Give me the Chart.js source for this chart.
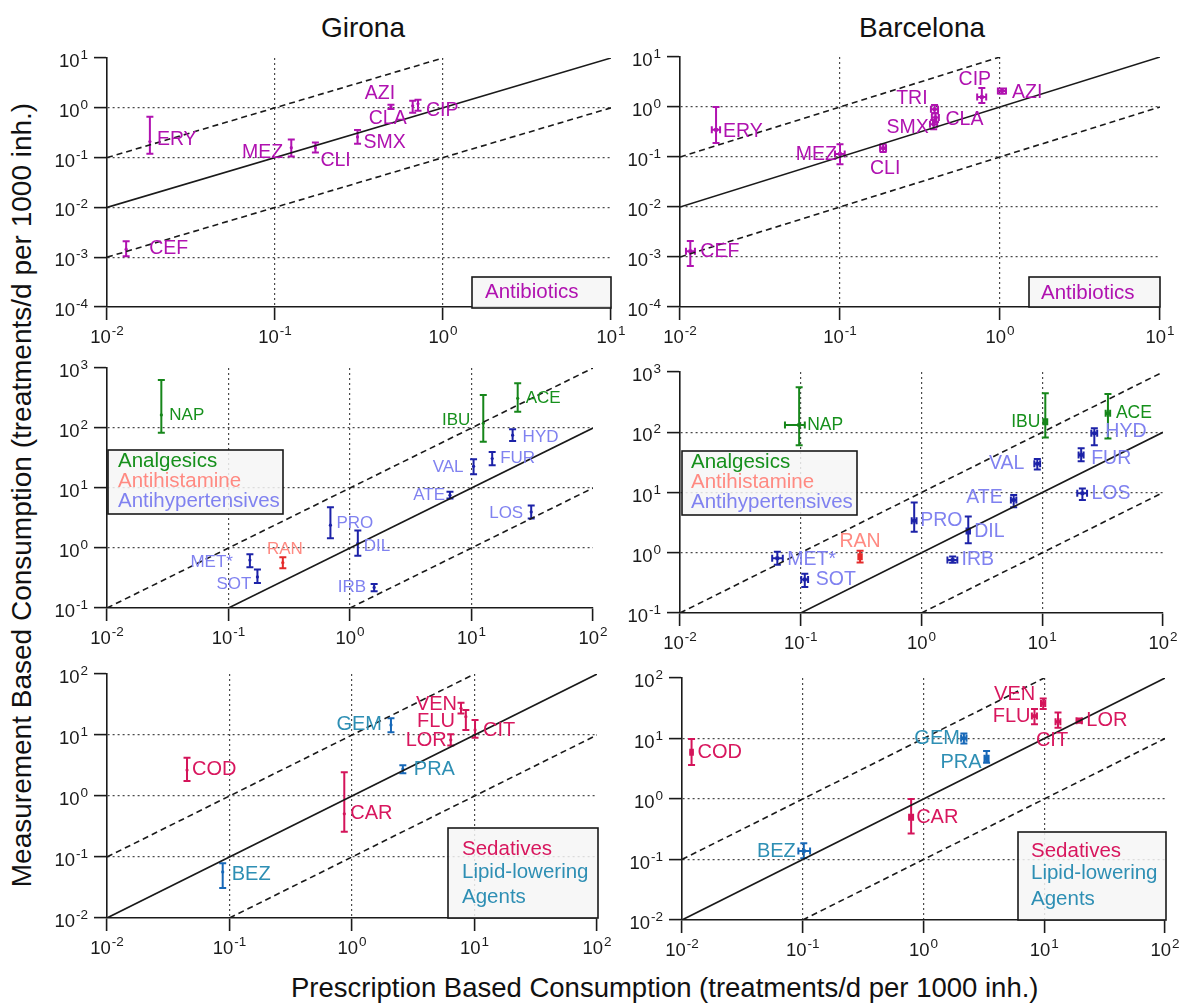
<!DOCTYPE html>
<html>
<head>
<meta charset="utf-8">
<script src="https://cdn.jsdelivr.net/npm/chart.js@4.4.1/dist/chart.umd.min.js"></script>
<style>
html, body { margin: 0; padding: 0; background: #fff; overflow: hidden; }
body { width: 1182px; height: 1004px; position: relative; font-family: "Liberation Sans", Arial, sans-serif; color: #111; }
canvas { position: absolute; }
.title { position: absolute; font-size: 28px; line-height: 28px; white-space: nowrap; transform: translateX(-50%); }
#ytitle { position: absolute; left: 22px; top: 495px; font-size: 28px; line-height: 28px; white-space: nowrap;
  transform: translate(-50%, -50%) rotate(-90deg); }
#xtitle { position: absolute; left: 291px; top: 974px; font-size: 27.5px; line-height: 28px; white-space: nowrap; }
</style>
</head>
<body>
<div class="title" style="left:363px;top:14px">Girona</div>
<div class="title" style="left:922px;top:14px">Barcelona</div>
<div id="ytitle">Measurement Based Consumption (treatments/d per 1000 inh.)</div>
<div id="xtitle">Prescription Based Consumption (treatments/d per 1000 inh.)</div>
<script>
// tick exponents (labels are 10^e)
const topXExp = [-2, -1, 0, 1];
const topYExp = [-4, -3, -2, -1, 0, 1];
const midXExp = [-2, -1, 0, 1, 2];
const midYExp = [-1, 0, 1, 2, 3];
const botXExp = [-2, -1, 0, 1, 2];
const botYExp = [-2, -1, 0, 1, 2];

// reference lines y = x, y = 10x, y = x/10
const topIdX = [1e-2, 1e1], topIdY = [1e-2, 1e1];
const topUpX = [1e-2, 1e0], topUpY = [1e-1, 1e1];
const topLoX = [1e-2, 1e1], topLoY = [1e-3, 1e0];
const midIdX = [1e-1, 1e2], midIdY = [1e-1, 1e2];
const midUpX = [1e-2, 1e2], midUpY = [1e-1, 1e3];
const midLoX = [1e0, 1e2],  midLoY = [1e-1, 1e1];
const botIdX = [1e-2, 1e2], botIdY = [1e-2, 1e2];
const botUpX = [1e-2, 1e1], botUpY = [1e-1, 1e2];
const botLoX = [1e-1, 1e2], botLoY = [1e-2, 1e1];

// Girona - antibiotics
const gAbNames = ["ERY", "CEF", "MEZ", "CLI", "SMX", "AZI", "CLA", "CIP"];
const gAbGroup = ["ab", "ab", "ab", "ab", "ab", "ab", "ab", "ab"];
const gAbX   = [0.018, 0.013, 0.125, 0.174, 0.31, 0.49, 0.66, 0.71];
const gAbY   = [0.21, 0.00145, 0.158, 0.158, 0.26, 1.05, 1.1, 1.2];
const gAbYLo = [0.12, 0.00105, 0.105, 0.126, 0.19, 0.95, 0.8, 0.87];
const gAbYHi = [0.66, 0.0021, 0.23, 0.2, 0.36, 1.15, 1.38, 1.45];

// Barcelona - antibiotics
const bAbNames = ["ERY", "CEF", "MEZ", "CLI", "TRI", "SMX", "CLA", "CIP", "AZI"];
const bAbGroup = ["ab", "ab", "ab", "ab", "ab", "ab", "ab", "ab", "ab"];
const bAbX   = [0.0168, 0.0116, 0.1, 0.186, 0.39, 0.385, 0.395, 0.77, 1.03];
const bAbY   = [0.35, 0.0013, 0.115, 0.15, 0.9, 0.45, 0.62, 1.58, 2.1];
const bAbYLo = [0.19, 0.00066, 0.072, 0.126, 0.75, 0.36, 0.5, 1.2, 1.85];
const bAbYHi = [1.0, 0.0021, 0.18, 0.18, 1.1, 0.55, 0.75, 2.4, 2.35];
const bAbXLo = [0.0158, 0.0109, 0.093, 0.178, 0.37, 0.365, 0.375, 0.72, 0.97];
const bAbXHi = [0.0178, 0.0124, 0.107, 0.194, 0.41, 0.405, 0.415, 0.82, 1.09];

// Girona - analgesics / antihistamine / antihypertensives
const gMidNames = ["NAP", "IBU", "ACE", "RAN", "HYD", "FUR", "VAL", "ATE", "LOS", "PRO", "DIL", "MET*", "SOT", "IRB"];
const gMidGroup = ["an", "an", "an", "ah", "hy", "hy", "hy", "hy", "hy", "hy", "hy", "hy", "hy", "hy"];
const gMidX   = [0.028, 12.5, 24, 0.28, 21.8, 14.8, 10.4, 6.65, 31, 0.69, 1.16, 0.15, 0.173, 1.58];
const gMidY   = [165, 120, 312, 0.57, 76, 31, 23, 7.6, 4.0, 2.4, 1.2, 0.63, 0.33, 0.22];
const gMidYLo = [83, 59, 187, 0.46, 61, 24, 17, 6.7, 3.1, 1.45, 0.74, 0.48, 0.26, 0.19];
const gMidYHi = [630, 355, 555, 0.7, 95, 40, 30, 8.7, 5.1, 4.8, 1.95, 0.79, 0.44, 0.25];

// Barcelona - analgesics / antihistamine / antihypertensives
const bMidNames = ["NAP", "IBU", "ACE", "RAN", "HYD", "FUR", "VAL", "ATE", "LOS", "PRO", "DIL", "MET*", "SOT", "IRB"];
const bMidGroup = ["an", "an", "an", "ah", "hy", "hy", "hy", "hy", "hy", "hy", "hy", "hy", "hy", "hy"];
const bMidX   = [0.097, 10.6, 35, 0.31, 27, 21, 9.1, 5.8, 21.5, 0.87, 2.44, 0.064, 0.108, 1.81];
const bMidY   = [132, 150, 206, 0.86, 96, 42, 30, 7.5, 9.7, 3.4, 2.3, 0.81, 0.36, 0.76];
const bMidYLo = [61, 82, 79, 0.69, 61, 33, 24, 5.7, 7.5, 2.24, 1.44, 0.63, 0.27, 0.68];
const bMidYHi = [557, 443, 431, 1.08, 116, 54, 36, 9.1, 11.7, 6.8, 4.0, 1.04, 0.45, 0.87];
const bMidXLo = [0.074, 10.2, 33.5, 0.30, 25.5, 20, 8.6, 5.5, 19.5, 0.83, 2.36, 0.058, 0.101, 1.64];
const bMidXHi = [0.108, 11.0, 36.5, 0.32, 28.5, 22, 9.6, 6.1, 23.5, 0.91, 2.52, 0.071, 0.115, 1.98];

// Girona - sedatives / lipid-lowering agents
const gBotNames = ["COD", "CAR", "VEN", "FLU", "CIT", "LOR", "BEZ", "GEM", "PRA"];
const gBotGroup = ["se", "se", "se", "se", "se", "se", "li", "li", "li"];
const gBotX   = [0.045, 0.865, 7.76, 8.5, 10.1, 6.4, 0.088, 2.08, 2.6];
const gBotY   = [2.67, 0.51, 27.4, 20, 12.1, 8.3, 0.057, 14.6, 2.77];
const gBotYLo = [1.76, 0.26, 22.6, 12.1, 9.0, 6.7, 0.031, 11.1, 2.36];
const gBotYHi = [4.25, 2.44, 33.9, 25.7, 17.6, 10.3, 0.079, 18.8, 3.2];

// Barcelona - sedatives / lipid-lowering agents
const bBotNames = ["COD", "CAR", "VEN", "FLU", "CIT", "LOR", "BEZ", "GEM", "PRA"];
const bBotGroup = ["se", "se", "se", "se", "se", "se", "li", "li", "li"];
const bBotX   = [0.012, 0.79, 9.8, 8.3, 13, 19.5, 0.102, 2.16, 3.33];
const bBotY   = [5.9, 0.5, 38, 23.5, 19, 19.7, 0.138, 10.1, 4.7];
const bBotYLo = [3.65, 0.27, 30.8, 17.2, 15.1, 18.2, 0.105, 8.3, 3.96];
const bBotYHi = [9.8, 1.0, 46, 30.8, 27, 21.4, 0.185, 12.1, 6.2];
const bBotXLo = [0.0117, 0.76, 9.4, 7.9, 12.4, 18.5, 0.092, 2.05, 3.2];
const bBotXHi = [0.0123, 0.82, 10.2, 8.7, 13.6, 20.5, 0.115, 2.27, 3.46];

// label placement (pixel offsets from the point, alignment)
const gAbLab  = [[7,-2,"l"],[23,-1,"l"],[-8,5,"r"],[5,13,"l"],[6,6,"l"],[-11,-13,"c"],[-6,13,"r"],[8,7,"l"]];
const bAbLab  = [[7,2,"l"],[10,0,"l"],[-3,1,"r"],[2,20,"c"],[-7,-11,"r"],[-5,3,"r"],[10,2,"l"],[-7,-17,"c"],[10,2,"l"]];
const gMidLab = [[8,0,"l"],[-13,-3,"r"],[8,0,"l"],[2,-13,"c"],[10,2,"l"],[8,0,"l"],[-10,1,"r"],[-5,0,"r"],[-8,1,"r"],[6,-2,"l"],[6,3,"l"],[-17,2,"r"],[-6,7,"r"],[-8,0,"r"]];
const bMidLab = [[8,0,"l"],[-5,1,"r"],[8,0,"l"],[0,-15,"c"],[11,-2,"l"],[10,4,"l"],[-13,0,"r"],[-11,-2,"r"],[9,0,"l"],[6,0,"l"],[6,1,"l"],[10,1,"l"],[11,0,"l"],[9,0,"l"]];
const gBotLab = [[5,0,"l"],[6,0,"l"],[-4,-4,"r"],[-11,5,"r"],[8,1,"l"],[-4,1,"r"],[9,3,"l"],[-9,0,"r"],[11,0,"l"]];
const bBotLab = [[6,0,"l"],[5,0,"l"],[-8,-9,"r"],[-4,0,"r"],[-6,19,"c"],[7,0,"l"],[-8,0,"r"],[-4,0,"r"],[-5,4,"r"]];

const FONT = '"Liberation Sans", Arial, Helvetica, sans-serif';
const barColor  = { ab: "#b012b0", an: "#16861a", ah: "#e42a2a", hy: "#1c22a8", se: "#d4145a", li: "#1768b8" };
const textColor = { ab: "#b012b0", an: "#16901c", ah: "#ff8a82", hy: "#8082f0", se: "#d8175e", li: "#2e8fb4" };

const panels = [
  { L: 107, T: 58, R: 611, B: 307, xExp: topXExp, yExp: topYExp,
    refs: [[topIdX, topIdY, false], [topUpX, topUpY, true], [topLoX, topLoY, true]],
    names: gAbNames, group: gAbGroup, x: gAbX, y: gAbY, yLo: gAbYLo, yHi: gAbYHi, lab: gAbLab,
    sizes: { ab: 19.5 },
    legend: { box: [365, 219, 139, 31], tx: 13, base: [21], lines: [["Antibiotics", "ab"]] } },
  { L: 680, T: 57, R: 1160, B: 307, xExp: topXExp, yExp: topYExp,
    refs: [[topIdX, topIdY, false], [topUpX, topUpY, true], [topLoX, topLoY, true]],
    names: bAbNames, group: bAbGroup, x: bAbX, y: bAbY, yLo: bAbYLo, yHi: bAbYHi, xLo: bAbXLo, xHi: bAbXHi, lab: bAbLab,
    sizes: { ab: 19.5 },
    legend: { box: [349, 220, 131, 30], tx: 12, base: [22], lines: [["Antibiotics", "ab"]] } },
  { L: 107, T: 368, R: 593, B: 608, xExp: midXExp, yExp: midYExp,
    refs: [[midIdX, midIdY, false], [midUpX, midUpY, true], [midLoX, midLoY, true]],
    names: gMidNames, group: gMidGroup, x: gMidX, y: gMidY, yLo: gMidYLo, yHi: gMidYHi, lab: gMidLab,
    sizes: { an: 17, ah: 17, hy: 17 },
    legend: { box: [1, 82, 175, 64], tx: 10, base: [17, 37, 57], lines: [["Analgesics", "an"], ["Antihistamine", "ah"], ["Antihypertensives", "hy"]] } },
  { L: 680, T: 372, R: 1163, B: 613, xExp: midXExp, yExp: midYExp,
    refs: [[midIdX, midIdY, false], [midUpX, midUpY, true], [midLoX, midLoY, true]],
    names: bMidNames, group: bMidGroup, x: bMidX, y: bMidY, yLo: bMidYLo, yHi: bMidYHi, xLo: bMidXLo, xHi: bMidXHi, lab: bMidLab,
    sizes: { an: 17.5, ah: 19.5, hy: 19.5 },
    legend: { box: [2, 79, 175, 64], tx: 9, base: [17, 37, 57], lines: [["Analgesics", "an"], ["Antihistamine", "ah"], ["Antihypertensives", "hy"]] } },
  { L: 107, T: 674, R: 597, B: 918, xExp: botXExp, yExp: botYExp,
    refs: [[botIdX, botIdY, false], [botUpX, botUpY, true], [botLoX, botLoY, true]],
    names: gBotNames, group: gBotGroup, x: gBotX, y: gBotY, yLo: gBotYLo, yHi: gBotYHi, lab: gBotLab,
    sizes: { se: 20, li: 20 },
    legend: { box: [341, 154, 150, 90], tx: 14, base: [27, 50, 75], lines: [["Sedatives", "se"], ["Lipid-lowering", "li"], ["Agents", "li"]] } },
  { L: 682, T: 678, R: 1165, B: 920, xExp: botXExp, yExp: botYExp,
    refs: [[botIdX, botIdY, false], [botUpX, botUpY, true], [botLoX, botLoY, true]],
    names: bBotNames, group: bBotGroup, x: bBotX, y: bBotY, yLo: bBotYLo, yHi: bBotYHi, xLo: bBotXLo, xHi: bBotXHi, lab: bBotLab,
    sizes: { se: 20, li: 20 },
    legend: { box: [336, 154, 148, 88], tx: 13, base: [25, 47, 73], lines: [["Sedatives", "se"], ["Lipid-lowering", "li"], ["Agents", "li"]] } }
];

function powLabel(ctx, x, y, e, align) {
  ctx.font = "18.5px " + FONT;
  const w1 = ctx.measureText("10").width;
  ctx.font = "13.5px " + FONT;
  const sup = String(e);
  const w2 = ctx.measureText(sup).width;
  const total = w1 + 1 + w2;
  const x0 = align === "right" ? x - total : x - total / 2;
  ctx.fillStyle = "#1a1a1a";
  ctx.textAlign = "left";
  ctx.textBaseline = "alphabetic";
  ctx.font = "18.5px " + FONT;
  ctx.fillText("10", x0, y);
  ctx.font = "13.5px " + FONT;
  ctx.fillText(sup, x0 + w1 + 1, y - 8);
}

function panelPlugin(p) {
  return {
    id: "panelExtras",
    beforeDatasetsDraw(chart) {
      const ctx = chart.ctx, xs = chart.scales.x, ys = chart.scales.y;
      ctx.save();
      ctx.lineWidth = 2;
      p.names.forEach((n, i) => {
        const col = barColor[p.group[i]];
        const px = xs.getPixelForValue(p.x[i]);
        const py = ys.getPixelForValue(p.y[i]);
        const lo = ys.getPixelForValue(p.yLo[i]);
        const hi = ys.getPixelForValue(p.yHi[i]);
        const cap = 3.5;
        ctx.strokeStyle = col;
        ctx.beginPath();
        ctx.moveTo(px, lo); ctx.lineTo(px, hi);
        ctx.moveTo(px - cap, lo); ctx.lineTo(px + cap, lo);
        ctx.moveTo(px - cap, hi); ctx.lineTo(px + cap, hi);
        if (p.xLo) {
          const l = xs.getPixelForValue(p.xLo[i]);
          const r = xs.getPixelForValue(p.xHi[i]);
          ctx.moveTo(l, py); ctx.lineTo(r, py);
          ctx.moveTo(l, py - cap); ctx.lineTo(l, py + cap);
          ctx.moveTo(r, py - cap); ctx.lineTo(r, py + cap);
        }
        ctx.stroke();
      });
      ctx.restore();
    },
    afterDatasetsDraw(chart) {
      const ctx = chart.ctx, xs = chart.scales.x, ys = chart.scales.y, a = chart.chartArea;
      ctx.save();
      ctx.textBaseline = "middle";
      p.names.forEach((n, i) => {
        const g = p.group[i];
        const px = xs.getPixelForValue(p.x[i]);
        const py = ys.getPixelForValue(p.y[i]);
        const [dx, dy, al] = p.lab[i];
        ctx.font = p.sizes[g] + "px " + FONT;
        ctx.fillStyle = textColor[g];
        ctx.textAlign = al === "l" ? "left" : al === "r" ? "right" : "center";
        ctx.fillText(n, px + dx, py + dy);
      });
      // legend box
      const lg = p.legend;
      const bx = a.left + lg.box[0], by = a.top + lg.box[1];
      ctx.fillStyle = "rgba(246,246,246,0.85)";
      ctx.fillRect(bx, by, lg.box[2], lg.box[3]);
      ctx.strokeStyle = "#1a1a1a";
      ctx.lineWidth = 1.6;
      ctx.strokeRect(bx, by, lg.box[2], lg.box[3]);
      ctx.font = "20.5px " + FONT;
      ctx.textAlign = "left";
      ctx.textBaseline = "alphabetic";
      lg.lines.forEach((ln, k) => {
        ctx.fillStyle = textColor[ln[1]];
        ctx.fillText(ln[0], bx + lg.tx, by + lg.base[k]);
      });
      ctx.restore();
    },
    afterDraw(chart) {
      const ctx = chart.ctx, xs = chart.scales.x, ys = chart.scales.y, a = chart.chartArea;
      ctx.save();
      p.xExp.forEach(e => powLabel(ctx, xs.getPixelForValue(Math.pow(10, e)), a.bottom + 36, e, "center"));
      p.yExp.forEach(e => powLabel(ctx, a.left - 19, ys.getPixelForValue(Math.pow(10, e)) + 9, e, "right"));
      ctx.restore();
    }
  };
}

function axisOpts(exps, isX) {
  const min = Math.pow(10, exps[0]), max = Math.pow(10, exps[exps.length - 1]);
  return {
    type: "logarithmic",
    position: isX ? "bottom" : "left",
    min: min, max: max,
    afterBuildTicks: s => { s.ticks = exps.map(e => ({ value: Math.pow(10, e) })); },
    afterFit: s => { if (isX) s.height = 45; else s.width = 65; },
    ticks: { display: false },
    grid: {
      color: c => {
        const v = c.tick ? c.tick.value : 0;
        return (v <= min * 1.001 || v >= max * 0.999) ? "rgba(0,0,0,0)" : "#4a4a4a";
      },
      lineWidth: 1.2,
      drawTicks: true,
      tickLength: 13,
      tickColor: "#1a1a1a",
      tickWidth: 1.6
    },
    border: { display: true, color: "#1a1a1a", width: 1.6, dash: [2, 3] }
  };
}

function buildPanel(p) {
  const cv = document.createElement("canvas");
  const W = p.R - p.L, H = p.B - p.T;
  cv.width = W + 85;
  cv.height = H + 60;
  cv.style.left = (p.L - 65) + "px";
  cv.style.top = (p.T - 15) + "px";
  document.body.appendChild(cv);

  const datasets = p.refs.map(r => ({
    data: r[0].map((v, i) => ({ x: v, y: r[1][i] })),
    showLine: true,
    borderColor: "#1a1a1a",
    borderWidth: 1.6,
    borderDash: r[2] ? [6, 4] : [],
    pointRadius: 0
  }));
  const barcelona = !!p.xLo;
  [...new Set(p.group)].forEach(g => {
    const idx = p.group.map((v, i) => v === g ? i : -1).filter(i => i >= 0);
    datasets.push({
      data: idx.map(i => ({ x: p.x[i], y: p.y[i] })),
      backgroundColor: barColor[g],
      borderColor: barColor[g],
      borderWidth: 0,
      pointStyle: barcelona ? "rect" : "circle",
      pointRadius: barcelona ? 2.6 : 1.6
    });
  });

  new Chart(cv, {
    type: "scatter",
    data: { datasets },
    options: {
      responsive: false,
      animation: false,
      devicePixelRatio: 1,
      layout: { padding: { left: 0, right: 20, top: 15, bottom: 0 } },
      plugins: { legend: { display: false }, tooltip: { enabled: false } },
      scales: { x: axisOpts(p.xExp, true), y: axisOpts(p.yExp, false) }
    },
    plugins: [panelPlugin(p)]
  });
}

panels.forEach(buildPanel);
</script>
</body>
</html>
